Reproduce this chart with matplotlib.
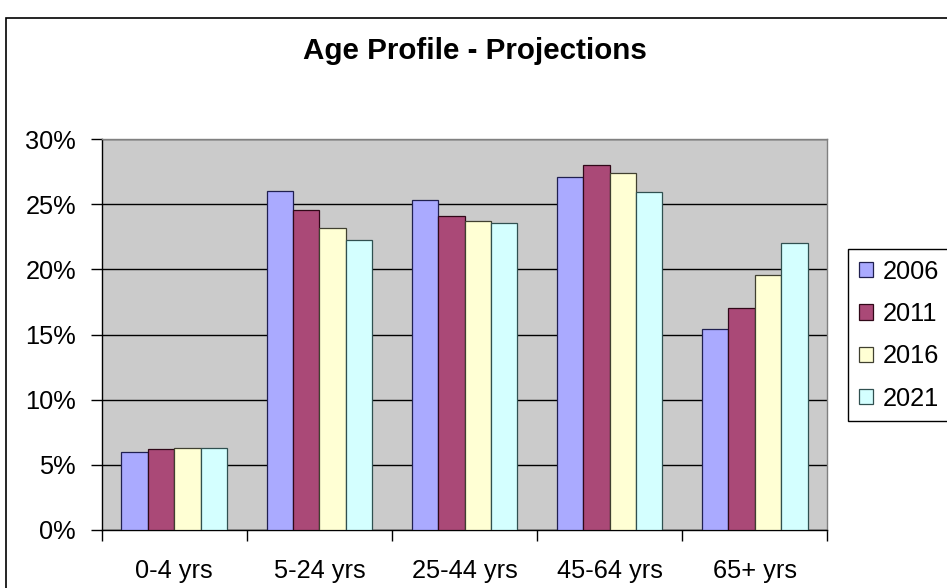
import matplotlib
matplotlib.use("Agg")
import matplotlib.pyplot as plt
import numpy as np
from matplotlib.patches import Rectangle
from matplotlib.ticker import FixedLocator, PercentFormatter

categories = ["0-4 yrs", "5-24 yrs", "25-44 yrs", "45-64 yrs", "65+ yrs"]
series_names = ["2006", "2011", "2016", "2021"]
v2006 = [6.0, 26.05, 25.3, 27.1, 15.45]
v2011 = [6.2, 24.6, 24.1, 28.05, 17.0]
v2016 = [6.3, 23.15, 23.7, 27.4, 19.55]
v2021 = [6.3, 22.25, 23.55, 25.95, 22.0]
yticks = [0, 5, 10, 15, 20, 25, 30]
title = "Age Profile - Projections"

colors = ["#AAAAFF", "#AA4977", "#FFFFD4", "#D4FFFF"]
edgecolors = ["#202050", "#300818", "#404030", "#305050"]

plt.rcParams['font.family'] = ['Liberation Sans', 'DejaVu Sans']

W, H = 947, 588
fig = plt.figure(figsize=(W / 100, H / 100), dpi=100)
fig.patch.set_facecolor("white")

# chart frame
fig.patches.append(Rectangle((6 / W, -0.1), 1.2, (1 - 18 / H) + 0.1,
                             transform=fig.transFigure, fill=False,
                             edgecolor="black", linewidth=1.2))

left, right, top, bottom = 101.7, 827.3, 139.3, 529.7
ax = fig.add_axes([left / W, 1 - bottom / H, (right - left) / W, (bottom - top) / H])
ax.set_facecolor("#CBCBCB")

x = np.arange(len(categories))
w = 0.182
all_vals = [v2006, v2011, v2016, v2021]
bars = []
for i, (vals, c, ec, name) in enumerate(zip(all_vals, colors, edgecolors, series_names)):
    b = ax.bar(x + (i - 1.5) * w, vals, width=w, color=c, edgecolor=ec,
               linewidth=0.9, label=name, zorder=3)
    bars.append(b)

ax.set_xlim(-0.5, len(categories) - 0.5)
ax.set_ylim(0, 30)
ax.yaxis.set_major_locator(FixedLocator(yticks))
ax.yaxis.set_major_formatter(PercentFormatter(decimals=0))
ax.grid(axis="y", color="black", linewidth=1.0, zorder=1)
ax.set_axisbelow(True)

ax.set_xticks(x)
ax.set_xticklabels(categories)
ax.set_xticks(np.arange(-0.5, len(categories)), minor=True)
ax.tick_params(axis="x", which="major", length=0, pad=21, labelsize=18.3)
ax.tick_params(axis="x", which="minor", length=8, width=1, color="black", direction="out")
ax.tick_params(axis="y", which="major", length=8, width=1, color="black", pad=10.5,
               labelsize=18.3, direction="out")

for s in ["top", "right"]:
    ax.spines[s].set_color("#808080")
    ax.spines[s].set_linewidth(1.0)
for s in ["left", "bottom"]:
    ax.spines[s].set_color("black")
    ax.spines[s].set_linewidth(1.0)

fig.text(475 / W, 1 - 51 / H, title, ha="center", va="center",
         fontsize=21.3, fontweight="bold")

leg = fig.legend(handles=bars, labels=series_names, loc="upper left",
                 bbox_to_anchor=(848 / W, 1 - 249 / H), borderaxespad=0,
                 fontsize=18.3, frameon=True, fancybox=False, shadow=False,
                 handlelength=0.56, handleheight=0.56, handletextpad=0.4,
                 labelspacing=0.72, borderpad=0.42)
leg.get_frame().set_edgecolor("black")
leg.get_frame().set_linewidth(1.0)
leg.get_frame().set_alpha(1)

fig.savefig("out.png", dpi=100)
